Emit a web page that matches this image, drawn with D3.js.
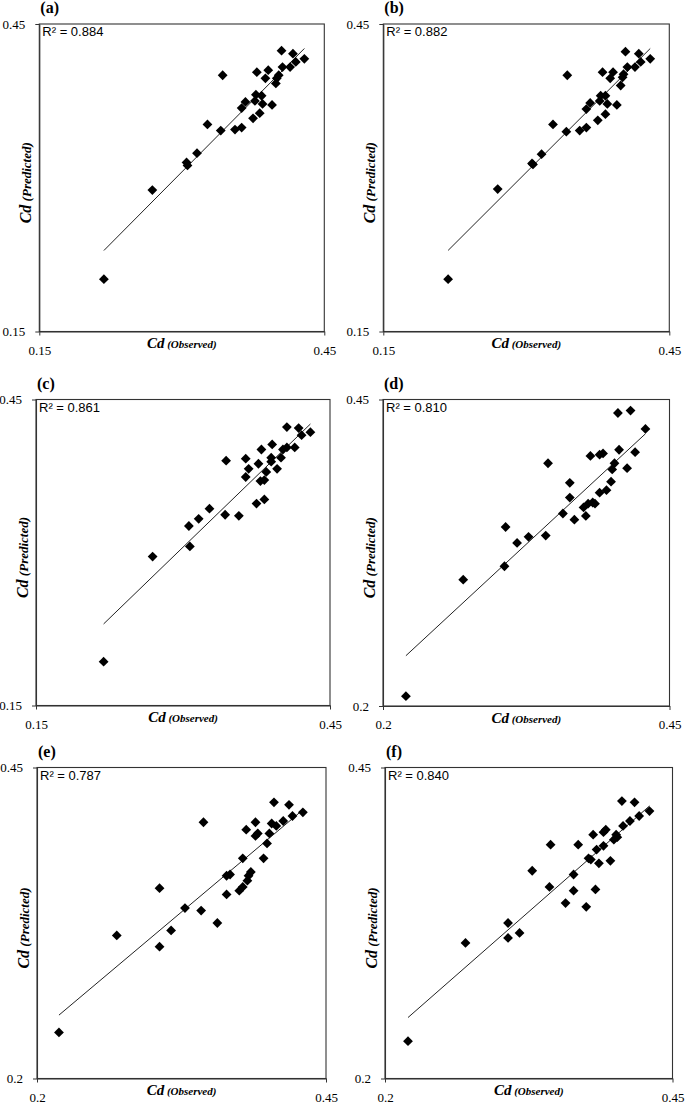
<!DOCTYPE html>
<html>
<head>
<meta charset="utf-8">
<script src="https://cdn.jsdelivr.net/npm/d3@7"></script>
<style>
  body { margin: 0; background: #fff; }
  svg { display: block; }
</style>
</head>
<body>
<svg id="chart" width="685" height="1104"></svg>
<script>
// ---------------- DATA ----------------
const panelLabels = ["(a)", "(b)", "(c)", "(d)", "(e)", "(f)"];
const r2Labels = ["R² = 0.884", "R² = 0.882", "R² = 0.861", "R² = 0.810", "R² = 0.787", "R² = 0.840"];

const xDomains = [[0.15, 0.45], [0.15, 0.45], [0.15, 0.45], [0.2, 0.45], [0.2, 0.45], [0.2, 0.45]];
const yDomains = [[0.15, 0.45], [0.15, 0.45], [0.15, 0.45], [0.2, 0.45], [0.2, 0.45], [0.2, 0.45]];
const xTickLabels = [["0.15", "0.45"], ["0.15", "0.45"], ["0.15", "0.45"], ["0.2", "0.45"], ["0.2", "0.45"], ["0.2", "0.45"]];
const yTickLabels = [["0.15", "0.45"], ["0.15", "0.45"], ["0.15", "0.45"], ["0.2", "0.45"], ["0.2", "0.45"], ["0.2", "0.45"]];

// linear trend lines
const trendSlopes = [0.934, 0.929, 0.929, 0.866, 0.782, 0.810];
const trendIntercepts = [0.0254, 0.0266, 0.0265, 0.0505, 0.0797, 0.0708];

const observedA = [0.218, 0.269, 0.305, 0.306, 0.316, 0.327, 0.341, 0.343, 0.356, 0.363, 0.363, 0.367, 0.375, 0.377, 0.378, 0.382, 0.384, 0.385, 0.379, 0.388, 0.391, 0.395, 0.399, 0.400, 0.402, 0.405, 0.406, 0.414, 0.417, 0.420, 0.429];
const predictedA = [0.201, 0.288, 0.315, 0.312, 0.324, 0.352, 0.346, 0.400, 0.347, 0.349, 0.368, 0.374, 0.358, 0.375, 0.381, 0.363, 0.380, 0.372, 0.403, 0.397, 0.405, 0.371, 0.392, 0.397, 0.400, 0.424, 0.408, 0.408, 0.421, 0.413, 0.416];

const observedB = [0.218, 0.270, 0.306, 0.307, 0.316, 0.328, 0.342, 0.343, 0.356, 0.363, 0.363, 0.367, 0.375, 0.377, 0.378, 0.383, 0.383, 0.385, 0.380, 0.388, 0.391, 0.395, 0.399, 0.401, 0.402, 0.404, 0.406, 0.414, 0.418, 0.420, 0.430];
const predictedB = [0.201, 0.289, 0.314, 0.313, 0.323, 0.352, 0.345, 0.400, 0.346, 0.349, 0.367, 0.373, 0.356, 0.375, 0.380, 0.362, 0.380, 0.372, 0.403, 0.397, 0.403, 0.371, 0.390, 0.398, 0.401, 0.423, 0.408, 0.408, 0.421, 0.413, 0.416];

const observedC = [0.219, 0.269, 0.306, 0.307, 0.316, 0.327, 0.343, 0.344, 0.357, 0.364, 0.364, 0.367, 0.375, 0.377, 0.379, 0.380, 0.383, 0.383, 0.385, 0.390, 0.390, 0.391, 0.396, 0.400, 0.402, 0.406, 0.406, 0.414, 0.418, 0.421, 0.430];
const predictedC = [0.193, 0.296, 0.326, 0.306, 0.333, 0.343, 0.337, 0.390, 0.336, 0.392, 0.374, 0.382, 0.348, 0.387, 0.370, 0.401, 0.352, 0.371, 0.379, 0.393, 0.389, 0.406, 0.382, 0.393, 0.401, 0.403, 0.423, 0.403, 0.422, 0.415, 0.418];

const observedD = [0.220, 0.270, 0.306, 0.307, 0.317, 0.327, 0.342, 0.344, 0.357, 0.363, 0.363, 0.367, 0.375, 0.377, 0.379, 0.381, 0.383, 0.385, 0.389, 0.389, 0.392, 0.395, 0.399, 0.400, 0.402, 0.405, 0.406, 0.413, 0.416, 0.420, 0.429];
const predictedD = [0.208, 0.303, 0.314, 0.346, 0.333, 0.338, 0.339, 0.398, 0.357, 0.370, 0.382, 0.352, 0.362, 0.355, 0.365, 0.404, 0.366, 0.365, 0.374, 0.405, 0.406, 0.376, 0.383, 0.393, 0.398, 0.439, 0.409, 0.394, 0.441, 0.407, 0.426];

const observedE = [0.219, 0.269, 0.306, 0.306, 0.316, 0.328, 0.342, 0.344, 0.356, 0.364, 0.364, 0.367, 0.375, 0.378, 0.378, 0.381, 0.382, 0.383, 0.385, 0.389, 0.389, 0.391, 0.396, 0.399, 0.401, 0.403, 0.405, 0.407, 0.413, 0.418, 0.421, 0.430];
const predictedE = [0.237, 0.315, 0.353, 0.306, 0.319, 0.337, 0.335, 0.406, 0.325, 0.348, 0.363, 0.364, 0.351, 0.377, 0.354, 0.400, 0.359, 0.363, 0.366, 0.395, 0.406, 0.397, 0.377, 0.389, 0.397, 0.405, 0.422, 0.403, 0.407, 0.420, 0.411, 0.414];

const observedF = [0.220, 0.270, 0.307, 0.307, 0.317, 0.328, 0.343, 0.344, 0.357, 0.364, 0.364, 0.368, 0.375, 0.377, 0.379, 0.381, 0.383, 0.384, 0.386, 0.390, 0.390, 0.392, 0.396, 0.399, 0.401, 0.402, 0.406, 0.407, 0.413, 0.417, 0.421, 0.430];
const predictedF = [0.230, 0.309, 0.325, 0.313, 0.317, 0.367, 0.354, 0.388, 0.341, 0.351, 0.364, 0.388, 0.338, 0.377, 0.376, 0.396, 0.352, 0.384, 0.373, 0.387, 0.398, 0.400, 0.375, 0.392, 0.396, 0.394, 0.423, 0.403, 0.407, 0.422, 0.411, 0.415];

const observedSets = [observedA, observedB, observedC, observedD, observedE, observedF];
const predictedSets = [predictedA, predictedB, predictedC, predictedD, predictedE, predictedF];

// ---------------- LAYOUT ----------------
const panelBoxes = [
  { left: 39.3, right: 324.3, top: 24, bottom: 331.5 },
  { left: 383.3, right: 669.3, top: 24, bottom: 331.5 },
  { left: 36, right: 330, top: 399.5, bottom: 705.5 },
  { left: 383, right: 669.5, top: 399.5, bottom: 706 },
  { left: 37, right: 326, top: 767.5, bottom: 1078.5 },
  { left: 385, right: 672.5, top: 767.5, bottom: 1078.5 }
];

const svg = d3.select("#chart");
const serif = "'Liberation Serif', 'Times New Roman', serif";
const sans = "'Liberation Sans', Arial, sans-serif";
const axisColor = "#333";

panelBoxes.forEach((box, i) => {
  const g = svg.append("g");
  const x = d3.scaleLinear().domain(xDomains[i]).range([box.left, box.right]);
  const y = d3.scaleLinear().domain(yDomains[i]).range([box.bottom, box.top]);

  // plot frame
  g.append("rect")
    .attr("x", x(xDomains[i][0]))
    .attr("y", y(yDomains[i][1]))
    .attr("width", x(xDomains[i][1]) - x(xDomains[i][0]))
    .attr("height", y(yDomains[i][0]) - y(yDomains[i][1]))
    .attr("fill", "none")
    .attr("stroke", axisColor)
    .attr("stroke-width", 1.1);

  // axes
  const xAxis = d3.axisBottom(x)
    .tickValues(xDomains[i])
    .tickSize(4).tickSizeOuter(0).tickPadding(10)
    .tickFormat((d, j) => xTickLabels[i][j]);
  const gx = g.append("g").attr("transform", `translate(0,${y(yDomains[i][0])})`).call(xAxis);

  const yAxis = d3.axisLeft(y)
    .tickValues(yDomains[i])
    .tickSize(4).tickSizeOuter(0).tickPadding(10)
    .tickFormat((d, j) => yTickLabels[i][j]);
  const gy = g.append("g").attr("transform", `translate(${x(xDomains[i][0])},0)`).call(yAxis);

  [gx, gy].forEach(ax => {
    ax.attr("font-family", null);
    ax.select(".domain").attr("stroke", axisColor).attr("stroke-width", 1.1);
    ax.selectAll(".tick line").attr("stroke", axisColor).attr("stroke-width", 1);
    ax.selectAll(".tick text")
      .attr("fill", "#000")
      .style("font-family", serif)
      .style("font-size", "13px");
  });

  // trend line
  const obs = observedSets[i];
  const pred = predictedSets[i];
  const xr = d3.extent(obs);
  const line = d3.line().x(d => x(d)).y(d => y(trendSlopes[i] * d + trendIntercepts[i]));
  g.append("path")
    .datum(xr)
    .attr("d", line)
    .attr("fill", "none")
    .attr("stroke", "#222")
    .attr("stroke-width", 1);

  // points (diamonds)
  const sym = d3.symbol().type(d3.symbolSquare).size(48);
  g.selectAll("path.pt")
    .data(obs.map((o, k) => [o, pred[k]]))
    .join("path")
    .attr("class", "pt")
    .attr("d", sym)
    .attr("transform", d => `translate(${x(d[0])},${y(d[1])}) rotate(45)`)
    .attr("fill", "#000");

  // R² label
  g.append("text")
    .attr("x", x(xDomains[i][0]) + 3)
    .attr("y", y(yDomains[i][1]) + 12)
    .style("font-family", sans)
    .style("font-size", "13px")
    .attr("fill", "#000")
    .text(r2Labels[i]);

  // panel label
  g.append("text")
    .attr("x", x(xDomains[i][0]) + 1)
    .attr("y", y(yDomains[i][1]) - 11)
    .style("font-family", serif)
    .style("font-size", "16px")
    .style("font-weight", "bold")
    .attr("fill", "#000")
    .text(panelLabels[i]);

  // x title
  const cx = (x(xDomains[i][0]) + x(xDomains[i][1])) / 2;
  const xt = g.append("text")
    .attr("x", cx)
    .attr("y", y(yDomains[i][0]) + 16.5)
    .attr("text-anchor", "middle")
    .style("font-family", serif)
    .style("font-weight", "bold")
    .style("font-style", "italic")
    .attr("fill", "#000");
  xt.append("tspan").style("font-size", "15px").text("Cd");
  xt.append("tspan").style("font-size", "11px").text(" (Observed)");

  // y title
  const cy = (y(yDomains[i][0]) + y(yDomains[i][1])) / 2 + 5;
  const yt = g.append("text")
    .attr("transform", `translate(${x(xDomains[i][0]) - 8},${cy}) rotate(-90)`)
    .attr("text-anchor", "middle")
    .style("font-family", serif)
    .style("font-weight", "bold")
    .style("font-style", "italic")
    .attr("fill", "#000");
  yt.append("tspan").style("font-size", "16px").text("Cd");
  yt.append("tspan").style("font-size", "13px").text(" (Predicted)");
});
</script>
</body>
</html>
